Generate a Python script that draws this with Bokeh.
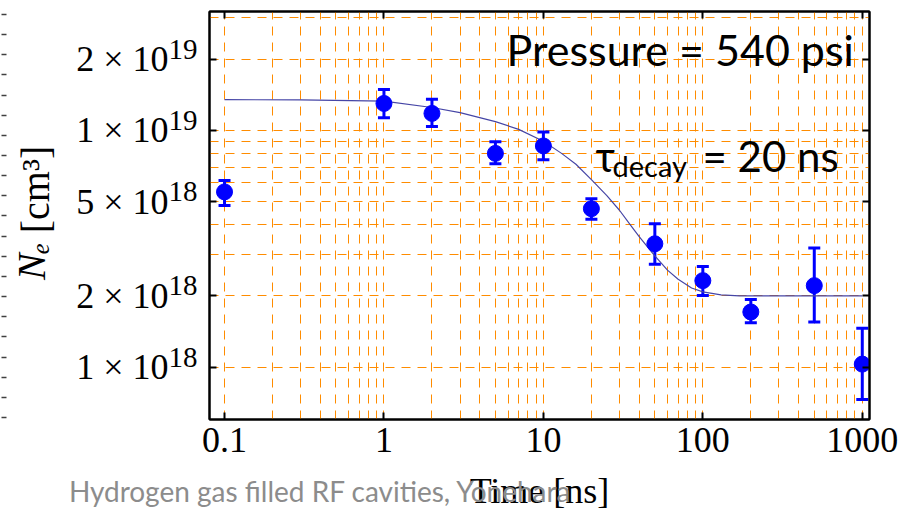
from math import log10
from bokeh.plotting import figure
from bokeh.models import (Range1d, FixedTicker, LogAxis, LinearAxis, LinearScale, Label, Whisker,
                          TeeHead, ColumnDataSource, CustomJSTickFormatter)
from bokeh.embed import file_html
from bokeh.resources import INLINE

# ---------------- data ----------------
time_ns = [0.1, 1, 2, 5, 10, 20, 50, 100, 200, 500, 1000]
ne = [5.5e18, 1.30e19, 1.18e19, 8.0e18, 8.6e18, 4.67e18, 3.32e18, 2.32e18, 1.71e18, 2.21e18, 1.03e18]
ne_upper = [6.15e18, 1.49e19, 1.355e19, 8.96e18, 9.84e18, 5.14e18, 4.03e18, 2.66e18, 1.93e18, 3.19e18, 1.46e18]
ne_lower = [4.82e18, 1.13e19, 1.04e19, 7.23e18, 7.52e18, 4.21e18, 2.72e18, 2.01e18, 1.54e18, 1.55e18, 0.73e18]

fit_t = [0.1, 0.3, 1, 2, 3, 5, 7, 10, 13, 16, 20, 25, 30, 35, 40, 50, 60, 70, 85,
         100, 130, 170, 250, 500, 1000]
fit_ne = [1.35e19, 1.345e19, 1.33e19, 1.25e19, 1.19e19, 1.09e19, 1.01e19, 9.0e18, 8.0e18,
          7.2e18, 6.2e18, 5.3e18, 4.6e18, 4.0e18, 3.55e18, 2.95e18, 2.57e18, 2.35e18, 2.16e18,
          2.08e18, 2.02e18, 2.0e18, 2.0e18, 2.0e18, 2.0e18]

xticks = [0.1, 1, 10, 100, 1000]
xtick_labels = ["0.1", "1", "10", "100", "1000"]
yticks = [1e18, 2e18, 5e18, 1e19, 2e19]
ytick_mantissa = ["1 × 10", "2 × 10", "5 × 10", "1 × 10", "2 × 10"]
ytick_exponent = ["18", "18", "18", "19", "19"]
xgrid_vals = [m * 10.0 ** e for e in range(-1, 3) for m in range(1, 10)] + [1000]
ygrid_vals = [m * 1e18 for m in range(1, 10)] + [1e19, 2e19, 3e19]
ruler_ticks = list(range(0, 21))     # stray ruler marks at the left edge of the slide

pressure_text = "Pressure = 540 psi"
tau_symbol = "τ"
tau_sub = "decay"
tau_value = "= 20 ns"
x_title = "Time [ns]"
y_title_symbol = "Nₑ"       # italic part of the y title
y_title_unit = "[cm³]"      # upright part of the y title
footer = "Hydrogen gas filled RF cavities, Yonehara"

SERIF = "Liberation Serif"
SANS = "Lato"
BLUE = "#0000ff"
ORANGE = "#ff8c00"

X0, X1 = 0.0805, 1110
Y0, Y1 = 6.01e17, 3.18e19
FRAME_W, FRAME_H = 660, 408

p = figure(x_axis_type="log", y_axis_type="log",
           frame_width=FRAME_W, frame_height=FRAME_H,
           x_range=Range1d(X0, X1), y_range=Range1d(Y0, Y1),
           output_backend="svg", toolbar_location=None,
           min_border_left=209, min_border_right=31, min_border_top=11, min_border_bottom=92)
p.background_fill_color = "white"
p.border_fill_color = "white"
p.outline_line_color = "black"
p.outline_line_width = 2
p.extra_y_ranges = {"ruler": Range1d(-0.1, -0.1 + FRAME_H / 20.15)}
p.extra_y_scales = {"ruler": LinearScale()}

# grid
p.xgrid.ticker = FixedTicker(ticks=xgrid_vals)
p.ygrid.ticker = FixedTicker(ticks=ygrid_vals)
for g in (p.xgrid, p.ygrid):
    g.grid_line_color = ORANGE
    g.grid_line_dash = "9 7"
    g.grid_line_width = 1
    g.minor_grid_line_color = None


def lookup_fmt(vals, labs):
    return CustomJSTickFormatter(args=dict(vals=vals, labs=labs), code="""
        for (let i = 0; i < vals.length; i++) {
            if (Math.abs(vals[i] - tick) <= 1e-9 * Math.abs(vals[i])) { return labs[i] }
        }
        return ''
    """)


def empty_fmt():
    return CustomJSTickFormatter(code="return ''")


def style_axis(ax, ticks, draw_ticks=True):
    ax.ticker = FixedTicker(ticks=ticks, minor_ticks=[])
    ax.axis_line_width = 2
    ax.axis_line_color = "black"
    ax.major_tick_in = 7
    ax.major_tick_out = 0
    ax.major_tick_line_width = 2
    ax.major_tick_line_color = "black" if draw_ticks else None
    ax.minor_tick_in = 0
    ax.minor_tick_out = 0
    ax.minor_tick_line_color = None


def label_axis(ticks, labels, font, size, standoff, color="black", style="normal"):
    ax = LogAxis(formatter=lookup_fmt(ticks, labels))
    style_axis(ax, ticks, draw_ticks=False)
    ax.axis_line_color = None
    ax.major_label_text_font = font
    ax.major_label_text_font_size = size
    ax.major_label_text_font_style = style
    ax.major_label_text_color = color
    ax.major_label_standoff = standoff
    return ax


# bottom axis with tick labels and title
xa = p.xaxis[0]
style_axis(xa, xticks)
xa.formatter = lookup_fmt(xticks, xtick_labels)
xa.major_label_text_font = SERIF
xa.major_label_text_font_size = "36px"
xa.major_label_text_color = "black"
xa.major_label_standoff = 8
xa.axis_label = x_title
xa.axis_label_text_font = SERIF
xa.axis_label_text_font_size = "36px"
xa.axis_label_text_font_style = "normal"
xa.axis_label_text_color = "black"
xa.axis_label_standoff = 16

# footer line, drawn as the label of a bare axis pulled up onto the title row
footer_anchor = [0.4]
p.add_layout(label_axis(footer_anchor, [footer], SANS, "28px", -40, color="#8c8c8c"), "below")

# left: frame ticks, then exponents, then mantissas, then the title pieces
ya = p.yaxis[0]
style_axis(ya, yticks)
ya.formatter = empty_fmt()
ya.major_label_standoff = 0

px_per_decade = FRAME_H / (log10(Y1) - log10(Y0))
exp_shift = 10 ** (10.0 / px_per_decade)          # raise exponents above the tick
exp_ticks = [v * exp_shift for v in yticks]
p.add_layout(label_axis(exp_ticks, ytick_exponent, SERIF, "29px", 12), "left")
p.add_layout(label_axis(yticks, ytick_mantissa, SERIF, "36px", -3), "left")

# y title pieces, centred at the heights where the reference shows them
unit_anchor = [5.63e18]
symbol_anchor = [2.80e18]
ax_unit = label_axis(unit_anchor, [y_title_unit], SERIF, "40px", 15)
ax_unit.major_label_orientation = "vertical"
p.add_layout(ax_unit, "left")
ax_sym = label_axis(symbol_anchor, [y_title_symbol], SERIF, "40px", -44, style="italic")
ax_sym.major_label_orientation = "vertical"
p.add_layout(ax_sym, "left")

# stray ruler marks at the far left
ruler = LinearAxis(y_range_name="ruler", ticker=FixedTicker(ticks=ruler_ticks, minor_ticks=[]),
                   formatter=empty_fmt(), major_label_standoff=0,
                   axis_line_color=None, major_tick_in=0, major_tick_out=5,
                   major_tick_line_color="#404040", major_tick_line_width=1.5,
                   minor_tick_line_color=None)
p.add_layout(ruler, "left")

top_ax = LogAxis(formatter=empty_fmt(), major_label_standoff=0)
style_axis(top_ax, xticks)
p.add_layout(top_ax, "above")
right_ax = LogAxis(formatter=empty_fmt(), major_label_standoff=0)
style_axis(right_ax, yticks)
p.add_layout(right_ax, "right")

# data marks
src = ColumnDataSource(dict(t=time_ns, ne=ne, up=ne_upper, lo=ne_lower))
p.add_layout(Whisker(source=src, base="t", upper="up", lower="lo", dimension="height",
                     line_color=BLUE, line_width=3,
                     upper_head=TeeHead(size=12, line_color=BLUE, line_width=3),
                     lower_head=TeeHead(size=12, line_color=BLUE, line_width=3)))
p.line(fit_t, fit_ne, line_color="#4646a6", line_width=1.2)
p.scatter("t", "ne", source=src, size=16, color=BLUE)


# in-frame annotations (screen units relative to the frame)
def slabel(x, y, text, size):
    p.add_layout(Label(x=x, y=y, x_units="screen", y_units="screen", text=text,
                       text_font=SANS, text_font_size=size, text_color="black",
                       text_align="left", text_baseline="alphabetic"))


slabel(297, 370, pressure_text, "43px")
slabel(386, 264, tau_symbol, "42px")
slabel(403, 254, tau_sub, "29px")
slabel(493, 264, tau_value, "42px")

open("out.html", "w").write(file_html(p, INLINE))
